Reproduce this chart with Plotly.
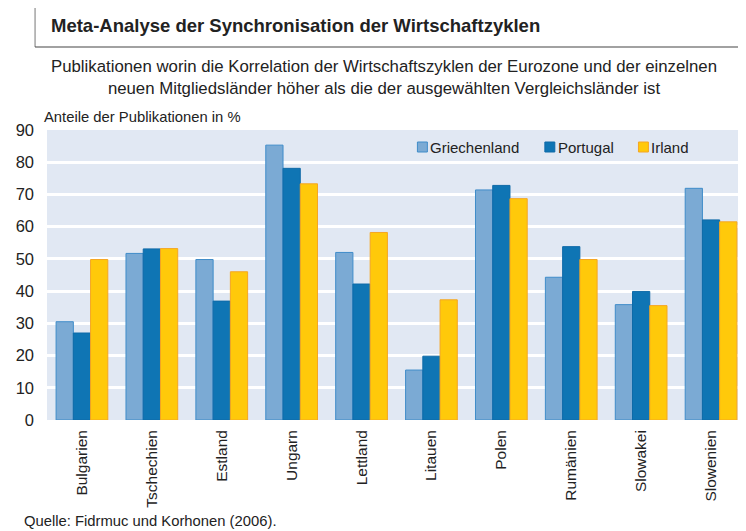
import plotly.graph_objects as go

categories = ["Bulgarien", "Tschechien", "Estland", "Ungarn", "Lettland",
              "Litauen", "Polen", "Rumänien", "Slowakei", "Slowenien"]
griechenland = [30.5, 51.7, 49.8, 85.3, 52.0, 15.5, 71.4, 44.3, 35.8, 71.9]
portugal = [27.0, 53.1, 36.9, 78.1, 42.2, 19.8, 72.8, 53.8, 39.9, 62.1]
irland = [49.8, 53.2, 46.0, 73.3, 58.2, 37.3, 68.7, 49.8, 35.5, 61.5]
series_names = ["Griechenland", "Portugal", "Irland"]

W, H = 746, 531
OFF = 8  # page body margin in the browser
# plot area in browser pixels: x 44..746, y 130..420
L = 44 - OFF
R = W - (746 - OFF)
T = 130 - OFF
B = H - (420 - OFF)
PW, PH = W - L - R, H - T - B


def px(bx):
    return (bx - OFF - L) / PW


def py(by):
    return (H - B - (by - OFF)) / PH


font = "Liberation Sans, Arial, sans-serif"
txt = "#222222"

fills = ["#7BAAD4", "#0F75B4", "#FFC90A"]
borders = ["#3F8CC9", "#0F6AA8", "#F5A623"]

fig = go.Figure()
for name, vals, col, line in zip(series_names, [griechenland, portugal, irland], fills, borders):
    fig.add_trace(go.Bar(x=categories, y=vals, name=name, showlegend=False,
                         marker=dict(color=col, line=dict(color=line, width=1))))

fig.update_layout(
    width=W, height=H,
    margin=dict(l=L, r=R, t=T, b=B),
    paper_bgcolor="white",
    plot_bgcolor="#E1E8F3",
    barmode="group",
    bargap=0.26,
    bargroupgap=0,
    font=dict(family=font, color=txt),
    showlegend=False,
    xaxis=dict(tickangle=-90, tickfont=dict(size=15.5, color=txt), showgrid=False,
               showline=False, ticks="", ticklabelstandoff=6),
    yaxis=dict(range=[0, 90], dtick=10, tickfont=dict(size=16.5, color=txt),
               showgrid=True, gridcolor="white", gridwidth=2.5, zeroline=False,
               ticks="", ticklabelstandoff=12),
)

# manual legend (small squares, text close to the square)
legend_x = [416, 544, 638]
for name, col, line, lx in zip(series_names, fills, borders, legend_x):
    fig.add_shape(type="rect", xref="paper", yref="paper",
                  x0=px(lx), x1=px(lx + 10), y0=py(152), y1=py(142),
                  fillcolor=col, line=dict(color=line, width=1))
    fig.add_annotation(text=name, xref="paper", yref="paper",
                       x=px(lx + 11), y=py(147), xanchor="left", yanchor="middle",
                       showarrow=False, font=dict(size=15, color=txt))

# Title frame lines
fig.add_shape(type="line", xref="paper", yref="paper",
              x0=px(32), x1=px(32), y0=py(7), y1=py(47),
              line=dict(color="#777777", width=1))
fig.add_shape(type="line", xref="paper", yref="paper",
              x0=px(32), x1=px(760), y0=py(47), y1=py(47),
              line=dict(color="#444444", width=1.2))

fig.add_annotation(text="<b>Meta-Analyse der Synchronisation der Wirtschaftzyklen</b>",
                   xref="paper", yref="paper", x=px(46), y=py(26),
                   xanchor="left", yanchor="middle", showarrow=False,
                   font=dict(size=18.5, color=txt))
fig.add_annotation(text="Publikationen worin die Korrelation der Wirtschaftszyklen der Eurozone und der einzelnen<br>neuen Mitgliedsländer höher als die der ausgewählten Vergleichsländer ist",
                   xref="paper", yref="paper", x=px(382), y=py(77),
                   xanchor="center", yanchor="middle", showarrow=False,
                   font=dict(size=16.8, color=txt), align="center")
fig.add_annotation(text="Anteile der Publikationen in %",
                   xref="paper", yref="paper", x=px(39), y=py(117),
                   xanchor="left", yanchor="middle", showarrow=False,
                   font=dict(size=14.8, color=txt))
fig.add_annotation(text="Quelle: Fidrmuc und Korhonen (2006).",
                   xref="paper", yref="paper", x=px(19), y=py(521),
                   xanchor="left", yanchor="middle", showarrow=False,
                   font=dict(size=14.8, color=txt))

fig.write_html("out.html")
